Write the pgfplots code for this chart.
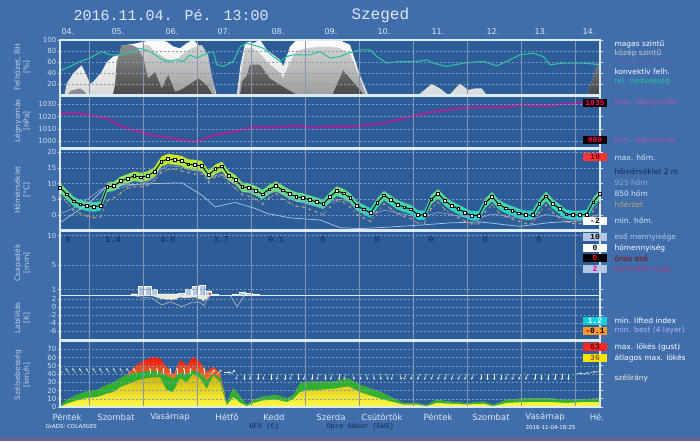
\documentclass[border=0pt]{standalone}
\usepackage{fontspec}
\setmainfont{DejaVu Sans}
\newfontfamily\monofont{Liberation Mono}
\usepackage{pgfplots}
\usepackage{pgfplotstable}
\pgfplotsset{compat=1.18}
\usetikzlibrary{arrows.meta}

\definecolor{outerbg}{RGB}{63,110,171}
\definecolor{plotbg}{RGB}{44,93,152}
\definecolor{framec}{RGB}{220,234,244}
\definecolor{tickc}{RGB}{205,220,236}
\definecolor{gridc}{RGB}{125,155,195}
\definecolor{daylc}{RGB}{135,150,175}
\definecolor{labc}{RGB}{190,208,228}
\definecolor{rhc}{RGB}{40,196,160}
\definecolor{presc}{RGB}{160,40,150}
\definecolor{tcyan}{RGB}{20,205,215}
\definecolor{tgreen}{RGB}{40,180,80}
\definecolor{tyellow}{RGB}{210,235,30}
\definecolor{t850c}{RGB}{170,200,232}
\definecolor{t925c}{RGB}{150,170,200}
\definecolor{feelc}{RGB}{190,165,120}
\definecolor{barc}{RGB}{180,200,228}
\definecolor{lic}{RGB}{165,172,185}
\definecolor{bestc}{RGB}{232,232,212}
\definecolor{gustred}{RGB}{232,20,16}
\definecolor{gustor}{RGB}{240,130,0}
\definecolor{windgreen}{RGB}{48,176,48}
\definecolor{ydark}{RGB}{205,180,0}
\definecolor{ylight}{RGB}{255,250,70}
\definecolor{arrc}{RGB}{244,244,216}
\definecolor{navyt}{RGB}{20,38,80}
\definecolor{lightt}{RGB}{222,232,244}

\pgfplotsset{
  panel/.style={
    scale only axis, width=540pt, anchor=south west,
    xmin=11, xmax=251,
    axis background/.style={fill=plotbg},
    axis line style={draw=framec, line width=1.3pt},
    xtick={24,48,72,96,120,144,168,192,216,240},
    xticklabels={},
    xmajorgrids, ymajorgrids,
    major x grid style={draw=daylc, line width=0.7pt},
    major y grid style={draw=gridc, dash pattern=on 2pt off 2pt, line width=0.4pt},
    xtick style={draw=none},
    ytick style={draw=framec, line width=0.5pt},
    tick align=outside, major tick length=2.5pt,
    yticklabel style={font=\fontsize{7}{8}\selectfont, text=tickc, inner sep=1pt},
    /pgf/number format/assume math mode=true,
    /pgf/number format/1000 sep={},
    axis on top,
  },
  overlay panel/.style={
    scale only axis, width=540pt, anchor=south west,
    xmin=11, xmax=251, hide axis, clip=true,
  },
}

% ---------- data ----------
\pgfplotstableread{
h rh
11 45
14 49
19.9 61
24.3 67
29.5 79
33.2 73
37.7 73
43.6 79
46.6 85
51 79
55.4 67
58.4 61
62.9 64
65.8 61
68.8 73
71.8 67
74.7 73
79.2 79
80.6 55
83.6 52
88 61
91.1 88
94 94
96.9 91
101.4 85
105.8 70
108.8 61
111.8 70
114.7 73
117.7 73
122.1 73
126.6 79
131 67
135.4 70
139.1 76
144.3 82
148.8 82
151.8 70
156.2 58
162.1 61
169.5 61
174 64
176.9 58
182.9 52
190.2 58
199.1 61
205.1 53
211 64
215.4 73
221.3 76
225.8 70
228.8 55
234.7 58
243.6 58
251 55
}\rhdata

\pgfplotstableread{
h c
11 0
13 0
14 21
17 40
20.6 54
22.9 35
23.4 30
24.3 20
26 25
29.5 42
31.8 60
34.7 70
37.7 73
40.6 91
45.1 94
48 97
54 100
58.4 97
61.4 88
64.3 85
67.3 94
70.2 100
73.2 88
76.2 64
79.2 22
80.6 0
89.6 0
91.1 52
93.3 94
95.4 97
96.9 94
99.9 100
102.9 82
108.8 64
110.2 52
113.2 88
116.2 100
135 100
139.9 91
144.3 36
148 0
170.2 0
176.2 20
179.9 12
182.9 2
184 0
188.8 21
192.3 9
195.4 12
198.4 12
200.6 0
245.1 0
250.3 57
251 60
}\highcl

\pgfplotstableread{
h c
11 0
44 0
45.1 70
48 91
50.2 91
53.2 79
57.7 67
62.1 61
65.1 73
69.5 85
74 91
76.8 73
78.4 36
79.9 4
80.6 0
90.5 0
91.5 40
93.3 85
96.9 85
99.9 75
104.3 55
108.8 40
110.2 30
113.2 60
116.2 80
120.6 85
126.6 88
131 88
135.4 85
139.9 75
144.3 30
147 0
251 0
}\midcl

\pgfplotstableread{
h c
11 0
14 0
16 8
20 12
22 6
23 0
251 0
}\lowcl

\pgfplotstableread{
h c
11 0
34.5 0
35.5 20
36.2 60
38.4 91
42.9 91
45.8 85
48 67
50.2 30
53.2 42
56.2 12
59.1 36
62.1 6
65 10
68 18
72.5 30
76.2 18
78.4 3
79 0
91 0
92 25
94 35
95.4 55
99.9 55
104.3 30
108.8 18
114.7 4
117 0
132 0
136.9 45
139.9 30
144.3 9
146 0
245.1 0
250.3 57
251 60
}\convcl

\pgfplotstableread{
h p
11 1022.7
19.9 1022.7
28.8 1019.5
33.2 1017.8
37.7 1012.4
43.6 1009.2
51 1005.1
58.4 1003.2
65.8 1001
71.8 999.7
79.2 1005
88 1007.8
96.9 1011.3
105.8 1011.3
114.7 1012.4
123.6 1011.3
132.5 1011.9
139.9 1011.9
154.7 1014.6
166.6 1020
176.9 1024
188.8 1026.8
199.1 1027.6
208 1027.6
217 1029.4
227.4 1028.6
236.2 1030.3
243.6 1031.3
251 1032.1
}\presdata

\pgfplotstableread{
h t feel t925 lo sp
11 8.7 6.2 0.5 7.1 3.0
14 6.6 4.0 1.2 5.0 3.0
17 4.4 1.5 2.2 2.8 3.0
20 3.4 0.5 3.5 1.8 3.0
23 2.9 -0.3 5.0 1.3 3.0
26 2.6 -0.8 6.5 1.0 3.0
29 3.0 -0.5 8.0 1.4 3.0
32 8.9 4.5 8.8 7.3 3.0
35 9.2 5.5 8.0 7.6 3.0
38 10.8 7.0 8.6 9.2 3.0
41 11.6 8.5 9.2 10.0 3.0
44 12.4 9.0 9.6 10.8 3.0
47 12.0 9.0 9.8 10.4 3.0
50 12.5 9.5 10.5 10.9 3.0
53 13.8 11.0 12.0 12.2 3.0
56 16.9 13.5 14.5 15.3 3.2
59 17.8 14.5 15.6 16.2 3.2
62 17.5 14.5 15.5 15.9 3.2
65 17.2 14.0 15.2 15.6 3.2
68 16.1 13.5 14.5 14.5 3.2
71 15.9 13.0 14.0 14.3 3.2
74 15.6 13.0 13.8 14.0 3.2
77 12.7 10.5 11.5 11.1 3.0
80 14.6 12.0 12.5 13.0 3.0
83 15.5 12.5 13.0 13.9 3.0
86 12.5 10.0 11.0 10.9 3.0
89 11.3 8.5 9.8 9.7 3.0
92 8.9 6.5 8.5 7.3 3.0
95 8.7 6.0 8.0 7.1 3.0
98 7.8 5.0 7.0 6.2 3.0
101 6.6 3.5 6.0 5.0 3.0
104 8.2 5.5 7.0 6.6 3.0
107 9.3 6.8 7.5 7.7 3.0
110 7.9 5.0 6.5 6.3 3.0
113 6.7 3.8 5.5 5.1 3.0
116 5.8 2.8 4.5 4.2 3.0
119 5.5 2.5 4.0 3.9 3.0
122 4.8 1.8 3.5 3.2 3.0
125 4.2 1.0 3.0 2.6 3.0
128 3.5 0.2 2.5 1.9 3.0
131 5.8 2.5 4.0 4.2 3.0
134 7.7 4.5 5.0 6.1 3.0
137 6.9 4.0 4.8 5.3 3.0
140 5.5 2.5 4.0 3.9 3.0
143 2.9 0.0 1.5 1.3 3.0
146 1.8 -1.0 1.0 0.2 3.0
149 0.7 -2.0 0.5 -0.9 3.0
152 3.9 1.0 0.8 2.3 3.0
155 6.3 3.5 1.5 4.7 3.0
158 4.8 2.0 1.2 3.2 3.0
161 3.3 0.5 0.6 1.7 3.0
164 2.5 -0.5 0.2 0.9 3.0
167 1.8 -1.2 -0.2 0.2 3.0
170 0.1 -2.5 -0.5 -1.5 3.0
173 0.0 -2.5 -0.6 -1.6 3.0
176 5.0 2.0 0.2 3.4 3.0
179 6.8 4.0 0.8 5.2 3.0
182 4.6 1.8 0.5 3.0 3.0
185 3.0 0.2 0.0 1.4 3.0
188 1.9 -0.8 -0.3 0.3 3.0
191 0.8 -2.0 -0.6 -0.8 3.0
194 -0.2 -2.8 -0.9 -1.8 3.0
197 -0.2 -2.8 -1.0 -1.8 3.0
200 3.8 1.0 -0.4 2.2 3.0
203 5.9 3.2 0.3 4.3 3.0
206 3.4 0.8 0.0 1.8 3.0
209 2.2 -0.5 -0.4 0.6 3.0
212 1.4 -1.3 -0.7 -0.2 3.0
215 0.6 -2.0 -1.0 -1.0 3.0
218 0.0 -2.7 -1.2 -1.6 3.0
221 0.0 -2.7 -1.2 -1.6 3.0
224 3.6 0.8 -0.6 2.0 3.0
227 6.0 3.2 0.2 4.4 3.0
230 3.6 0.8 -0.2 2.0 3.0
233 2.0 -0.8 -0.6 0.4 3.0
236 0.3 -2.2 -1.0 -1.3 3.0
239 0.0 -2.7 -1.2 -1.6 3.0
242 0.0 -2.7 -1.2 -1.6 3.0
245 0.2 -2.5 -1.0 -1.4 3.0
248 4.1 1.3 -0.4 2.5 3.0
251 6.7 4.0 0.3 5.1 3.0
}\tempdata

\pgfplotstableread{
h t
11 -2.5
17.7 0.8
24.3 4
31 8.7
38.1 9.5
53.2 10
65.2 10.2
74.1 6.3
79.9 2.6
88.8 4
97.7 2.1
103 0.5
113.2 -0.9
126.6 -1.6
135.4 -4
144.3 -4.3
153.2 -4.0
171 -3.2
184.3 -2.5
197.7 -2.2
215.4 -3.6
228.8 -2.4
251 -1.5
}\tdata

\pgfplotstableread{
h r
44 0.3
47 1.5
50 1.5
53 1.0
56 0.3
59 0.3
62 0.3
65 0.4
68 1.1
71 1.5
74 1.7
77 0.8
80 0.2
89 0.2
92 0.6
95 0.4
98 0.2
}\raindata

\pgfplotstableread{
h li
42.6 3
46.6 2.5
51.9 2.2
56.3 0.5
59.9 1.3
65.2 0.1
69.7 1.2
73.2 1.2
75 0.3
77.2 3
80 nan
86.6 3
89.7 0.1
93.2 3
}\lidata

\pgfplotstableread{
h b
51 3
55.4 2.2
57.7 2.0
61.3 1.75
64.3 2.5
66.6 2.3
71 2.5
74.7 1.6
76.5 2.0
77.8 3
}\bestdata

\pgfplotstableread{
h w
11 0.4
14 8.5
18.4 14.5
22.9 18.6
27.3 20.6
31.8 26.7
34.7 29.5
37.7 34.7
40.6 38.8
45.1 50.9
48 56.2
52.5 61
55.4 59
58.4 48.9
61.4 38.8
64.3 57
67.3 50.9
70.2 61
73.2 54.9
76.2 42.8
79.2 48.9
82.1 40.8
85.1 4.5
88 22.7
91.1 12.5
94 2.4
96.9 8.5
101.4 12.5
107.3 14.5
111.8 10.5
114.7 14.5
117.7 28.7
120.6 30.7
132.5 30.7
139.1 34.7
144.3 26.7
148.8 22.7
154.7 16.6
159.1 10.5
163.6 4.5
169.5 4.5
174 2.4
178.4 8.5
184.3 6.4
191.8 4.5
199.1 6.4
203.6 2.4
209.5 8.5
216.9 10.5
228.8 10.5
236.2 8.5
243.6 9.3
251 10.5
}\gustdata

\pgfplotstableread{
h w
11 0.4
14 8.5
18.4 14.5
22.9 18.6
27.3 20.6
31.8 26.7
34.7 29.5
37.7 34.7
40.6 38.8
45.1 42
48 43
52.5 44
55.4 42
58.4 38
61.4 34
64.3 42
67.3 40
70.2 44
73.2 42
76.2 32
79.2 40
82.1 35
85.1 4.5
88 22.7
91.1 12.5
94 2.4
96.9 8.5
101.4 12.5
107.3 14.5
111.8 10.5
114.7 14.5
117.7 28.7
120.6 30.7
132.5 30.7
139.1 34.7
144.3 26.7
148.8 22.7
154.7 16.6
159.1 10.5
163.6 4.5
169.5 4.5
174 2.4
178.4 8.5
184.3 6.4
191.8 4.5
199.1 6.4
203.6 2.4
209.5 8.5
216.9 10.5
228.8 10.5
236.2 8.5
243.6 9.3
251 10.5
}\greendata

\pgfplotstableread{
h w
11 0
14 4
18.4 8
22.9 11
27.3 12
31.8 16
34.7 18
37.7 24
40.6 27
45.1 32
48 34
52.5 36
55.4 36
58.4 20
61.4 18
64.3 35
67.3 30
70.2 40
73.2 35
76.2 22
79.2 38
82.1 30
85.1 2
88 12
91.1 5
94 1
96.9 5
101.4 8
107.3 9
111.8 6
114.7 10
117.7 18
120.6 20
132.5 22
139.1 25
144.3 18
148.8 14
154.7 9
159.1 6
163.6 3
169.5 3
174 1
178.4 5
184.3 4
191.8 3
199.1 4
203.6 1
209.5 5
216.9 6
228.8 6
236.2 5
243.6 6
251 6
}\yelldata

\pgfplotstableread{
h y u v
12 41 -1.5 6
15 41 -1.5 6
18 41 -1.5 6
21 41 -1.5 6
24 41 -1.5 6
27 41 -1.5 6
30 41 -1.5 6
33 41 -1.5 6
36 41 -1.5 6
39 41 -1.5 6
42 41 -1.5 6
45 41 -1.5 6
48 40 0 7.5
51 40 0 7.5
54 40 0 7.5
57 40 0 7.5
60 40 0 7.5
63 40 0 7.5
66 40 0 7.5
69 40 0 7.5
72 40 0 7.5
75 40 0 7.5
78 40 1.8 5
81 40 1.8 5
84 42 3 0
87 40 1.8 5
90 40 -0.8 -7
93 40 0 -7.5
96 40 -0.8 -7
99 40 0 -7.5
102 40 -0.8 -7
105 40 0 -7.5
108 40 -0.8 -7
111 40 0 -7.5
114 40 -0.8 -7
117 40 0 -7.5
120 40 -0.8 -7
123 40 0 -7.5
126 40 -0.8 -7
129 40 0 -7.5
132 40 -0.8 -7
135 40 0 -7.5
138 40 -0.8 -7
141 40 0.8 -7
144 40 0.8 -7
147 40 0.8 -7
150 40 0.8 -7
153 40 0.8 -7
156 40 0.8 -7
159 40 -0.8 -7
162 40 0.8 -7
165 40 -1.2 -7
168 40 -1.2 -7
171 40 -1.2 -7
174 40 -1.2 -7
177 40 -1.2 -7
180 40 -1.2 -7
183 40 -1.2 -7
186 40 -1.2 -7
189 40 -1.2 -7
192 40 -1.2 -7
195 40 -1.2 -7
198 40 0 -7.5
201 40 0 -7.5
204 40 0 -7.5
207 40 0 -7.5
210 40 -1.2 -7
213 40 -1.2 -7
216 40 -1.2 -7
219 40 -1.2 -7
222 40 0 -7.5
225 40 0 -7.5
228 40 0 -7.5
231 40 0 -7.5
234 40 0 -7.5
237 40 0 -7.5
240 40 3 1
243 40 3 1.5
246 41 3 2
249 42 2.5 3
}\arrdata

\begin{document}
\begin{tikzpicture}[x=1pt,y=1pt]
\fill[outerbg] (0,0) rectangle (700,441);
\fill[black!70!blue!60] (0,0) rectangle (700,4);

% ---------- panel 1: clouds, RH ----------
\begin{axis}[panel, at={(60pt,346pt)}, height=55pt, ymin=0, ymax=100,
  ytick={20,40,60,80,100}]
\addplot[draw=none, top color=white, bottom color=black!15] table[x=h,y=c] {\highcl} \closedcycle;
\addplot[draw=none, top color=black!18, bottom color=black!38] table[x=h,y=c] {\midcl} \closedcycle;
\addplot[draw=none, fill=black!45] table[x=h,y=c] {\lowcl} \closedcycle;
\addplot[draw=none, top color=black!45, bottom color=black!72] table[x=h,y=c] {\convcl} \closedcycle;
\addplot[rhc, line width=1.1pt] table[x=h,y=rh] {\rhdata};
\end{axis}

% ---------- panel 2: pressure ----------
\begin{axis}[panel, at={(60pt,293pt)}, height=51.5pt, ymin=994.6, ymax=1036.3,
  ytick={1000,1010,1020,1030}]
\addplot[presc, line width=2.4pt, opacity=0.9] table[x=h,y=p] {\presdata};
\end{axis}

% ---------- panel 3: temperature (band) ----------
\begin{axis}[panel, at={(60pt,211.5pt)}, height=80pt, ymin=-4.6, ymax=20.8,
  ytick={0,5,10,15,20}, stack plots=y]
\addplot[draw=none] table[x=h, y=lo] {\tempdata};
\addplot[draw=none, bottom color=tcyan, middle color=tgreen, top color=tyellow] table[x=h, y=sp] {\tempdata} \closedcycle;
\end{axis}
% ---------- panel 3: temperature (lines) ----------
\begin{axis}[overlay panel, at={(60pt,211.5pt)}, height=80pt, ymin=-4.6, ymax=20.8]
\addplot[t850c, line width=0.7pt] table[x=h,y=t] {\tdata};
\addplot[t925c, line width=0.6pt] table[x=h,y=t925] {\tempdata};
\addplot[feelc, line width=0.5pt, dashed, mark=o, mark size=0.7pt, mark options={solid}] table[x=h,y=feel] {\tempdata};
\addplot[black, line width=0.9pt, mark=square*, mark size=1.35pt,
  mark options={fill=white, draw=black, line width=0.4pt}] table[x=h,y=t] {\tempdata};
\end{axis}

% ---------- panel 4: precipitation ----------
\begin{axis}[panel, at={(60pt,145.5pt)}, height=64.5pt, ymin=0, ymax=10.75,
  ytick={1,5,10}]
\addplot[ybar, bar shift=0pt, bar width=2.6, fill=barc, draw=white, line width=0.3pt] table[x=h,y=r] {\raindata};
\addplot[ybar, bar shift=0.7, bar width=1.2, fill=red!80, draw=none] coordinates {(77,0.45)};
\end{axis}

% ---------- panel 5: stability ----------
\begin{axis}[panel, at={(60pt,101.5pt)}, height=44pt, ymin=-8.125, ymax=2.875,
  ytick={-6,-4,-2,0,2}, unbounded coords=jump]
\addplot[fill=bestc, draw=white!85!gray, line width=0.5pt] table[x=h,y=b] {\bestdata} -- cycle;
\addplot[lic, line width=0.8pt] table[x=h,y=li] {\lidata};
\end{axis}

% ---------- panel 6: wind ----------
\begin{axis}[panel, at={(60pt,34pt)}, height=66pt, ymin=0, ymax=80,
  ytick={0,10,20,30,40,50,60,70}]
\addplot[draw=none, top color=gustred, middle color=gustor, bottom color=ylight] table[x=h,y=w] {\gustdata} \closedcycle;
\addplot[draw=none, fill=windgreen] table[x=h,y=w] {\greendata} \closedcycle;
\addplot[draw=none, top color=ydark, bottom color=ylight] table[x=h,y=w] {\yelldata} \closedcycle;
\addplot[arrc, line width=0.45pt, -{Stealth[length=2.2pt,width=2.2pt]},
  quiver={u=\thisrow{u}, v=\thisrow{v}}] table[x=h,y=y] {\arrdata};
\end{axis}

% ---------- titles ----------
\node[anchor=west, text=lightt, font=\monofont\fontsize{15}{15}\selectfont] at (70,426) {2016.11.04. Pé. 13:00};
\node[anchor=west, text=lightt, font=\monofont\fontsize{16}{16}\selectfont] at (348,426) {Szeged};

% date labels on top
\begin{scope}[every node/.style={text=lightt, font=\fontsize{8}{8}\selectfont}]
\node at (68,409) {04.};
\node at (118,409) {05.};
\node at (172,409) {06.};
\node at (224,409) {07.};
\node at (278,409) {08.};
\node at (331,409) {09.};
\node at (384,409) {10.};
\node at (438,409) {11.};
\node at (493,409) {12.};
\node at (541,409) {13.};
\node at (589,409) {14.};
\end{scope}

% day names at bottom
\begin{scope}[every node/.style={text=lightt, font=\fontsize{8.5}{9}\selectfont}]
\node at (67,24) {Péntek};
\node at (116,24) {Szombat};
\node at (170,24) {Vasárnap};
\node at (227,24) {Hétfő};
\node at (274,24) {Kedd};
\node at (331,24) {Szerda};
\node at (382,24) {Csütörtök};
\node at (438,24) {Péntek};
\node at (491,24) {Szombat};
\node at (545,24) {Vasárnap};
\node at (597,24) {Hé.};
\end{scope}

% footer
\node[anchor=west, text=white, font=\fontsize{5.5}{6}\selectfont] at (42,14) {GrADS: COLA/IGES};
\node[anchor=west, text=navyt, font=\monofont\fontsize{7}{7}\selectfont] at (246,14) {GFS (C)};
\node[anchor=west, text=navyt, font=\monofont\fontsize{7}{7}\selectfont] at (323,14) {Opre Gábor (EWS)};
\node[anchor=west, text=white, font=\fontsize{5.5}{6}\selectfont] at (522,14) {2016-11-04-18:25};

% daily precipitation totals
\begin{scope}[every node/.style={text=navyt, font=\monofont\fontsize{8.5}{9}\selectfont}]
\node at (68,201) {0};
\node at (113,201) {1.4};
\node at (168,201) {4.6};
\node at (221,201) {3.7};
\node at (276,201) {0.1};
\node at (323,201) {0};
\node at (377,201) {0};
\node at (431,201) {0};
\node at (485,201) {0};
\node at (539,201) {0};
\end{scope}

% left axis titles
\begin{scope}[every node/.style={rotate=90, align=center, text=labc, font=\fontsize{7.5}{9}\selectfont}]
\node at (22,374) {Felhőzet, RH\\{[\%]}};
\node at (22,320) {Légnyomás\\{[hPa]}};
\node at (22,251) {Hőmérséklet\\{[°C]}};
\node at (22,178) {Csapadék\\{[mm]}};
\node at (22,123) {Labilitás\\{[K]}};
\node at (22,66) {Szélsebesség\\{[km/h]}};
\end{scope}

% right legend
\begin{scope}[every node/.style={anchor=west, font=\fontsize{7.5}{8}\selectfont}]
\node[text=white] at (611,397) {magas szintű};
\node[text=black!20] at (611,387.7) {közép szintű};
\node[text=black!50!blue!60] at (611,378.3) {alacsony szintű};
\node[text=white] at (611,369) {konvektív felh.};
\node[text=rhc] at (611,360) {rel. nedvesség};
\node[text=presc!80!white] at (611,338.3) {max. légnyomás};
\node[text=presc!80!white] at (611,301) {min. légnyomás};
\node[text=lightt] at (611,283.7) {max. hőm.};
\node[text=navyt] at (611,269.3) {hőmérséklet 2 m};
\node[text=t925c] at (611,258.3) {925 hőm};
\node[text=lightt] at (611,247) {850 hőm};
\node[text=feelc] at (611,236) {hőérzet};
\node[text=lightt] at (611,220) {min. hőm.};
\node[text=barc] at (611,204) {eső mennyisége};
\node[text=white] at (611,192.7) {hómennyiség};
\node[text=red!55!black] at (611,182.7) {ónos eső};
\node[text=magenta!70!black] at (611,172) {konvektív csap.};
\node[text=white] at (611,120.3) {min. lifted index};
\node[text=black!20!blue!30] at (611,110.3) {min. best (4 layer)};
\node[text=white] at (611,93.7) {max. lökés (gust)};
\node[text=white] at (611,82.7) {átlagos max. lökés};
\node[text=arrc] at (611,62.7) {szélirány};
\end{scope}

\begin{scope}[every node/.style={minimum width=24pt, minimum height=8pt, inner sep=0pt, font=\monofont\bfseries\fontsize{8}{8}\selectfont}]
\node[fill=black, text=red!70!magenta] at (595,338.3) {1035};
\node[fill=black, text=red!70!magenta] at (595,301) {989};
\node[fill=red!80, text=red!40!black] at (595,283.7) {19};
\node[fill=white, text=black] at (595,220) {-2};
\node[fill=barc, text=black] at (595,204) {10};
\node[fill=white, text=black] at (595,192.7) {0};
\node[fill=black, text=red] at (595,182.7) {0};
\node[fill=barc, text=magenta] at (595,172) {2};
\node[fill=tcyan, text=white] at (595,120.3) {1.2};
\node[fill=orange!80, text=black] at (595,110.3) {-0.1};
\node[fill=red!85, text=red!40!black] at (595,93.7) {63};
\node[fill=yellow!85!orange, text=brown!70!black] at (595,82.7) {36};
\end{scope}

\pgfresetboundingbox
\useasboundingbox (0,0) rectangle (700,441);
\end{tikzpicture}
\end{document}
